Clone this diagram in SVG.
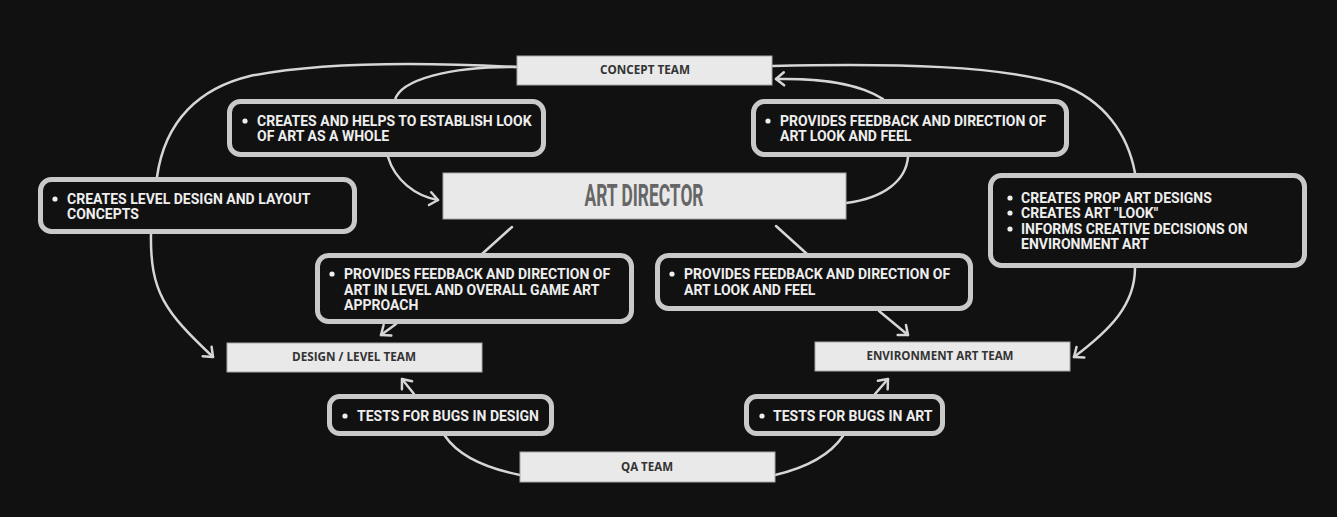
<svg xmlns="http://www.w3.org/2000/svg" width="1337" height="517" viewBox="0 0 1337 517">
<defs>
<style>
.bg{fill:#111111}
.team{fill:#e9e9e9;stroke:#a8a8a8;stroke-width:1}
.tl{font-family:"Open Sans","DejaVu Sans",sans-serif;font-weight:700;font-size:11.5px;fill:#333333;text-anchor:middle}
.bub{fill:#111111;stroke:#c9c9c9;stroke-width:5}
.bt{font-family:Roboto,"Liberation Sans",sans-serif;font-weight:700;font-size:14px;fill:#eeeeee}
.dot{fill:#eeeeee}
.con{fill:none;stroke:#d6d6d6;stroke-width:2.5;stroke-linecap:round}
.arr{marker-end:url(#ah)}
.ad{font-family:Roboto,"Liberation Sans",sans-serif;font-weight:700;font-size:31px;fill:#666666;text-anchor:middle}
</style>
<marker id="ah" viewBox="-12 -9 14 18" refX="0" refY="0" markerWidth="14" markerHeight="18" markerUnits="userSpaceOnUse" orient="auto">
<path d="M-8,-6.5 L0,0 L-8,6.5" fill="none" stroke="#d6d6d6" stroke-width="2.5" stroke-linecap="round" stroke-linejoin="round"/>
</marker>
</defs>
<rect class="bg" x="0" y="0" width="1337" height="517"/>
<g id="connectors">
<path class="con arr" d="M517,67 C420,62 320,62 250,76 C200,88 165,120 157,177 L151,234 C150,292 165,312 213,357"/>
<path class="con arr" d="M517,67 C450,66 400,80 395,100 L388,157 C395,180 415,196 438,200"/>
<path class="con arr" d="M846,203 C885,198 906,180 908,157 L883,99 C860,84 820,78 776,79"/>
<path class="con arr" d="M772,66 C900,63 1000,66 1060,84 C1105,100 1128,135 1135,173 L1135,268 C1135,305 1110,330 1074,357"/>
<path class="con" d="M512,227 L482,254"/>
<path class="con arr" d="M396,324 L381,335"/>
<path class="con" d="M776,226 L807,254"/>
<path class="con arr" d="M879,311 L908,335"/>
<path class="con" d="M520,475 C485,468 458,455 445,436"/>
<path class="con arr" d="M414,394 L402,379"/>
<path class="con" d="M775,475 C805,468 830,455 843,436"/>
<path class="con arr" d="M875,394 L888,379"/>
</g>
<g id="concept-team">
<rect class="team" x="517" y="56" width="255" height="29"/>
<text class="tl" x="645" y="74" textLength="90" lengthAdjust="spacingAndGlyphs">CONCEPT TEAM</text>
</g>
<g id="art-director">
<rect class="team" x="443" y="173" width="403" height="46"/>
<text class="ad" x="644" y="206" textLength="119" lengthAdjust="spacingAndGlyphs">ART DIRECTOR</text>
</g>
<g id="design-level-team">
<rect class="team" x="227" y="343" width="255" height="29"/>
<text class="tl" x="354" y="361" textLength="124" lengthAdjust="spacingAndGlyphs">DESIGN / LEVEL TEAM</text>
</g>
<g id="environment-art-team">
<rect class="team" x="815" y="342" width="255" height="29"/>
<text class="tl" x="940" y="360" textLength="147" lengthAdjust="spacingAndGlyphs">ENVIRONMENT ART TEAM</text>
</g>
<g id="qa-team">
<rect class="team" x="520" y="452" width="255" height="30"/>
<text class="tl" x="647" y="471" textLength="52" lengthAdjust="spacingAndGlyphs">QA TEAM</text>
</g>
<g id="note-concept-creates">
<rect class="bub" x="229.5" y="101.5" width="314" height="53" rx="11"/>
<circle class="dot" cx="245" cy="121" r="2.6"/>
<text class="bt" x="257" y="126">CREATES AND HELPS TO ESTABLISH LOOK</text>
<text class="bt" x="257" y="141">OF ART AS A WHOLE</text>
</g>
<g id="note-ad-to-concept">
<rect class="bub" x="753.5" y="101.5" width="313" height="53" rx="11"/>
<circle class="dot" cx="768" cy="121" r="2.6"/>
<text class="bt" x="780" y="126">PROVIDES FEEDBACK AND DIRECTION OF</text>
<text class="bt" x="780" y="141">ART LOOK AND FEEL</text>
</g>
<g id="note-level-design">
<rect class="bub" x="40.5" y="179.5" width="314" height="52" rx="11"/>
<circle class="dot" cx="55" cy="199" r="2.6"/>
<text class="bt" x="67" y="204">CREATES LEVEL DESIGN AND LAYOUT</text>
<text class="bt" x="67" y="219">CONCEPTS</text>
</g>
<g id="note-prop-art">
<rect class="bub" x="990.5" y="175.5" width="314" height="90" rx="11"/>
<circle class="dot" cx="1010" cy="198" r="2.6"/>
<circle class="dot" cx="1010" cy="213" r="2.6"/>
<circle class="dot" cx="1010" cy="229" r="2.6"/>
<text class="bt" x="1021" y="203">CREATES PROP ART DESIGNS</text>
<text class="bt" x="1021" y="218">CREATES ART "LOOK"</text>
<text class="bt" x="1021" y="234">INFORMS CREATIVE DECISIONS ON</text>
<text class="bt" x="1021" y="249">ENVIRONMENT ART</text>
</g>
<g id="note-ad-to-design">
<rect class="bub" x="317.5" y="255.5" width="314" height="66" rx="11"/>
<circle class="dot" cx="332" cy="274" r="2.6"/>
<text class="bt" x="344" y="279">PROVIDES FEEDBACK AND DIRECTION OF</text>
<text class="bt" x="344" y="295">ART IN LEVEL AND OVERALL GAME ART</text>
<text class="bt" x="344" y="310">APPROACH</text>
</g>
<g id="note-ad-to-env">
<rect class="bub" x="657.5" y="255.5" width="313" height="53" rx="11"/>
<circle class="dot" cx="672" cy="274" r="2.6"/>
<text class="bt" x="684" y="279">PROVIDES FEEDBACK AND DIRECTION OF</text>
<text class="bt" x="684" y="295">ART LOOK AND FEEL</text>
</g>
<g id="note-qa-design">
<rect class="bub" x="329.5" y="396.5" width="222" height="37" rx="10"/>
<circle class="dot" cx="345" cy="416" r="2.6"/>
<text class="bt" x="357" y="421">TESTS FOR BUGS IN DESIGN</text>
</g>
<g id="note-qa-art">
<rect class="bub" x="746.5" y="396.5" width="196" height="37" rx="10"/>
<circle class="dot" cx="762" cy="416" r="2.6"/>
<text class="bt" x="773" y="421">TESTS FOR BUGS IN ART</text>
</g>
</svg>
